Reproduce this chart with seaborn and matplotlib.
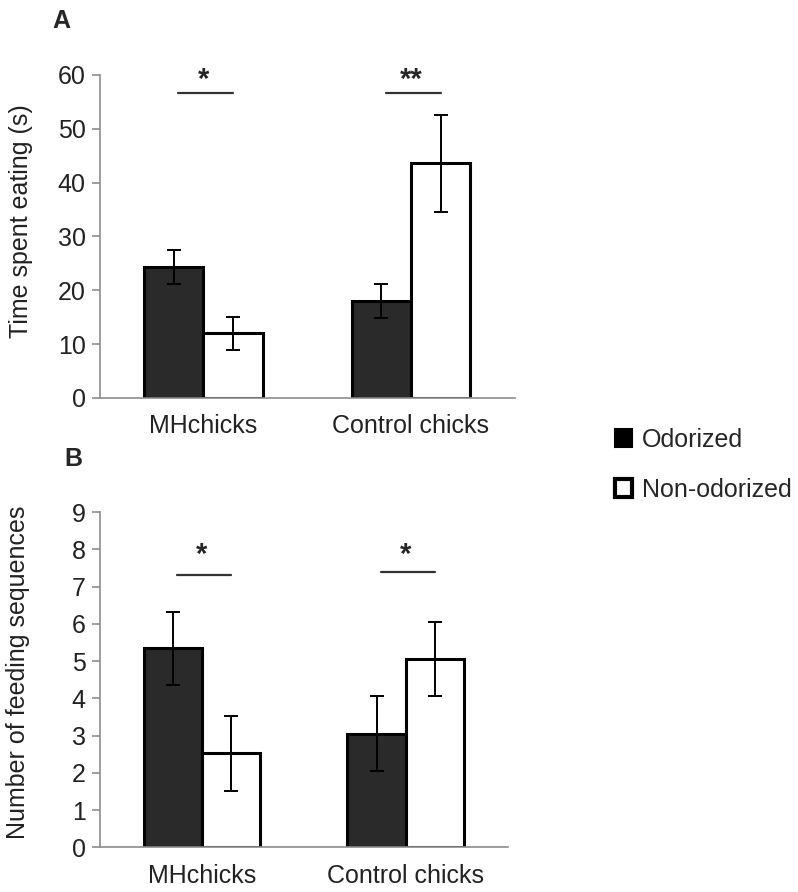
import matplotlib
matplotlib.use('Agg')
import matplotlib.pyplot as plt
from matplotlib.patches import Patch
import seaborn as sns
import pandas as pd

# data
groups = ['MHchicks', 'Control chicks']
treatments = ['Odorized', 'Non-odorized']

time_odor = [24.3, 18.0]
time_odor_err = [3.2, 3.1]
time_non = [12.0, 43.6]
time_non_err = [3.1, 9.0]
time_sig = ['*', '**']
time_sig_line = [56.7, 56.7]

seq_odor = [5.35, 3.05]
seq_odor_err = [0.98, 1.0]
seq_non = [2.52, 5.05]
seq_non_err = [1.0, 1.0]
seq_sig = ['*', '*']
seq_sig_line = [7.3, 7.4]

colors = {'Odorized': '#2a2a2a', 'Non-odorized': 'white'}
FS = 18

sns.set_style('white')
plt.rcParams['font.family'] = ['Liberation Sans', 'DejaVu Sans']

fig = plt.figure(figsize=(7.98, 8.92), dpi=100)
axA = fig.add_axes([0.125, 0.554, 0.52, 0.362])
axB = fig.add_axes([0.125, 0.050, 0.511, 0.376])


def draw_panel(ax, odor, odor_err, non, non_err, sig, sig_y, star_y, ymax, ylabel, lab_xy):
    df = pd.DataFrame({
        'group': groups * 2,
        'treatment': [treatments[0]] * 2 + [treatments[1]] * 2,
        'value': odor + non,
    })
    sns.barplot(data=df, x='group', y='value', hue='treatment', hue_order=treatments,
                palette=colors, width=0.57, errorbar=None, edgecolor='black',
                linewidth=2.2, legend=False, ax=ax)
    errs = [odor_err, non_err]
    centers = []
    for cont, err in zip(ax.containers, errs):
        xs = [p.get_x() + p.get_width() / 2 for p in cont.patches]
        ys = [p.get_height() for p in cont.patches]
        centers.append(xs)
        ax.errorbar(xs, ys, yerr=err, fmt='none', ecolor='black', elinewidth=1.4,
                    capsize=5, capthick=1.4, zorder=5)
    for i in range(len(groups)):
        x0, x1 = centers[0][i], centers[1][i]
        ax.plot([x0 + 0.02, x1], [sig_y[i], sig_y[i]], color='#333333', lw=1.6,
                clip_on=False)
        ax.text((x0 + x1) / 2, star_y, sig[i], ha='center', va='center',
                fontsize=21, fontweight='bold', clip_on=False)
    ax.set_ylim(0, ymax)
    ax.set_xlim(-0.5, 1.5)
    ax.set_xlabel('')
    ax.set_ylabel(ylabel, fontsize=FS, color='#222222')
    ax.yaxis.set_label_coords(*lab_xy)
    sns.despine(ax=ax)
    for s in ['left', 'bottom']:
        ax.spines[s].set_color('#8c8c8c')
        ax.spines[s].set_linewidth(1.2)
    ax.tick_params(axis='y', length=6, width=1.2, color='#8c8c8c', labelsize=FS,
                   labelcolor='#222222', pad=4, left=True)
    ax.tick_params(axis='x', length=0, labelsize=FS, labelcolor='#222222', pad=12)


draw_panel(axA, time_odor, time_odor_err, time_non, time_non_err, time_sig,
           time_sig_line, 59.0, 60, 'Time spent eating (s)', (-0.161, 0.548))
axA.set_yticks(range(0, 61, 10))

draw_panel(axB, seq_odor, seq_odor_err, seq_non, seq_non_err, seq_sig,
           seq_sig_line, 7.85, 9, 'Number of feeding sequences', (-0.172, 0.522))
axB.set_yticks(range(0, 10))

fig.text(0.066, 0.976, 'A', fontsize=18, fontweight='bold', va='center')
fig.text(0.081, 0.485, 'B', fontsize=18, fontweight='bold', va='center')

handles = [Patch(facecolor='black', edgecolor='black', linewidth=1.5),
           Patch(facecolor='white', edgecolor='black', linewidth=3)]
fig.legend(handles, treatments, loc='center left', bbox_to_anchor=(0.742, 0.479),
           frameon=False, fontsize=FS, handlelength=0.7, handleheight=0.7,
           handletextpad=0.4, labelspacing=1.05)

fig.savefig('out.png', dpi=100, facecolor='white')
